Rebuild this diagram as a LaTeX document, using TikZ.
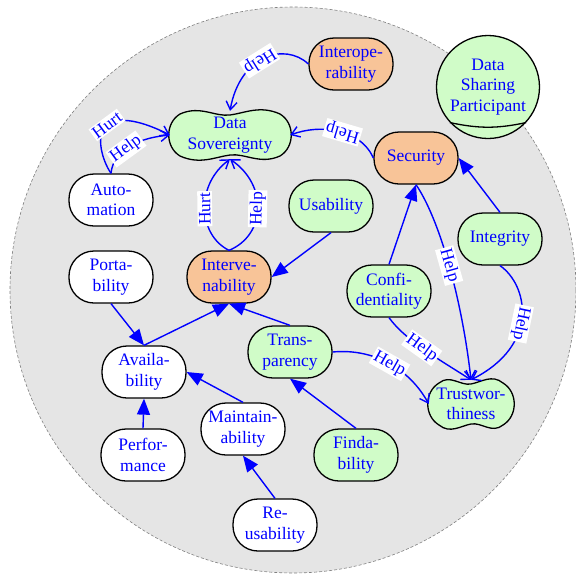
\documentclass[tikz,border=0pt]{standalone}
\usepackage{fontspec}
\setmainfont{Liberation Serif}
\usetikzlibrary{arrows.meta,shapes.misc}
\definecolor{sgreen}{RGB}{208,252,200}
\definecolor{sorange}{RGB}{248,196,152}
\definecolor{sgrey}{RGB}{229,229,229}
\tikzset{
  nfont/.style={font=\fontsize{17.5}{20.5}\selectfont},
  base/.style={nfont, draw=black, line width=1.3pt, rounded corners=25pt, minimum width=84pt, minimum height=52pt, align=center, text=blue, inner sep=0pt},
  wnode/.style={base, fill=white},
  gnode/.style={base, fill=sgreen},
  onode/.style={base, fill=sorange},
  sgtext/.style={nfont, align=center, text=blue, inner sep=0pt},
  contrib/.style={-{Triangle[length=16pt,width=13pt]}, blue, line width=1.4pt},
  helpedge/.style={-{Straight Barb[length=8pt,width=11pt]}, blue, line width=1.4pt},
  lbl/.style={nfont, fill=white, text=blue, inner sep=1.5pt, sloped, allow upside down},
}
\newcommand\softgoal[6]{%
  \filldraw[fill=sgreen, draw=black, line width=1.3pt, shift={(#2,#3)}]
   ({-#4+10},{-#5+3}) .. controls ({-#4/2},{-#5-6}) and ({-#4/4},{-#5+6}) .. (0,{-#5+4})
   .. controls ({#4/4},{-#5+2}) and ({#4/2},{-#5-6}) .. ({#4-10},{-#5+3})
   .. controls ({#4+5},{-#5+12}) and ({#4+5},{#5-12}) .. ({#4-10},{#5-3})
   .. controls ({#4/2},{#5+6}) and ({#4/4},{#5-6}) .. (0,{#5-4})
   .. controls ({-#4/4},{#5-2}) and ({-#4/2},{#5+6}) .. ({-#4+10},{#5-3})
   .. controls ({-#4-5},{#5-12}) and ({-#4-5},{-#5+12}) .. cycle;
  \node[sgtext, minimum width={2*#4}, minimum height={2*#5}] (#1) at (#2,#3) {#6};
}
\begin{document}
\begin{tikzpicture}[x=1pt,y=-1pt]
\useasboundingbox (0,0) rectangle (576,574);
% boundary
\draw[fill=sgrey, draw=gray, line width=0.6pt, dash pattern=on 3pt off 2pt] (293,290) circle (283pt);
% actor
\node[circle, draw=black, line width=1.3pt, fill=sgreen, minimum size=103pt, inner sep=0pt, align=center, text=blue, nfont] (dsp) at (488,87) {Data\\Sharing\\Participant};
\draw[black, line width=1.3pt] (dsp.223) to[bend right=12] (dsp.-43);
% softgoals
\softgoal{ds}{230}{135}{60}{24}{Data\\Sovereignty}
\softgoal{trust}{471}{404}{42}{24}{Trustwor-\\thiness}
% nodes
\node[onode] (interop) at (351,64) {Interope-\\rability};
\node[onode] (sec) at (416,158) {Security};
\node[onode] (interv) at (229,277) {Interve-\\nability};
\node[wnode] (auto) at (111,200) {Auto-\\mation};
\node[gnode] (usab) at (331,206) {Usability};
\node[gnode] (integ) at (500,239) {Integrity};
\node[gnode] (conf) at (389,291) {Confi-\\dentiality};
\node[wnode] (port) at (111,277) {Porta-\\bility};
\node[wnode] (avail) at (144,372) {Availa-\\bility};
\node[gnode] (trans) at (290,352) {Trans-\\parency};
\node[wnode] (perf) at (143,455) {Perfor-\\mance};
\node[wnode] (maint) at (243,429) {Maintain-\\ability};
\node[gnode] (find) at (356,455) {Finda-\\bility};
\node[wnode] (reus) at (275,525) {Re-\\usability};
% help / hurt edges
\draw[helpedge] (interop.west) .. controls (285,42) and (240,55) .. (ds.north) node[lbl,pos=0.55] {Help};
\draw[helpedge] (sec.west) .. controls (360,128) and (320,124) .. (ds.east) node[lbl,pos=0.45] {Help};
\draw[helpedge] (auto.north) .. controls (102,160) and (95,135) .. (107,125)
  .. controls (122,114) and (150,125) .. (ds.west) node[lbl,pos=0] {Hurt};
\draw[helpedge] (auto.north) .. controls (112,165) and (115,157) .. (126,149)
  .. controls (137,141) and (150,137) .. (ds.west) node[lbl,pos=0] {Help};
\draw[helpedge] (interv.north) .. controls (198,235) and (195,185) .. (ds.south) node[lbl,pos=0.5] {Hurt};
\draw[helpedge] (interv.north) .. controls (266,235) and (268,185) .. (ds.south) node[lbl,pos=0.5] {Help};
\draw[helpedge] (sec.south) .. controls (440,220) and (462,300) .. (trust.north) node[lbl,pos=0.5] {Help};
\draw[helpedge] (integ.south) .. controls (528,285) and (540,345) .. (trust.north) node[lbl,pos=0.55] {Help};
\draw[helpedge] (conf.south) .. controls (405,340) and (440,360) .. (trust.north) node[lbl,pos=0.47] {Help};
\draw[helpedge] (trans.east) .. controls (375,348) and (410,370) .. (trust.west) node[lbl,pos=0.5] {Help};
% contribution edges
\draw[contrib] (usab.south) -- (interv.east);
\draw[contrib] (conf.north) -- (sec.south);
\draw[contrib] (integ.north) -- (sec.east);
\draw[contrib] (port.south) -- (avail.north);
\draw[contrib] (avail.north) -- (interv.south);
\draw[contrib] (trans.north) -- (interv.south);
\draw[contrib] (perf.north) -- (avail.south);
\draw[contrib] (maint.north) -- (avail.east);
\draw[contrib] (find.north) -- (trans.south);
\draw[contrib] (reus.north) -- (maint.south);
\end{tikzpicture}
\end{document}
